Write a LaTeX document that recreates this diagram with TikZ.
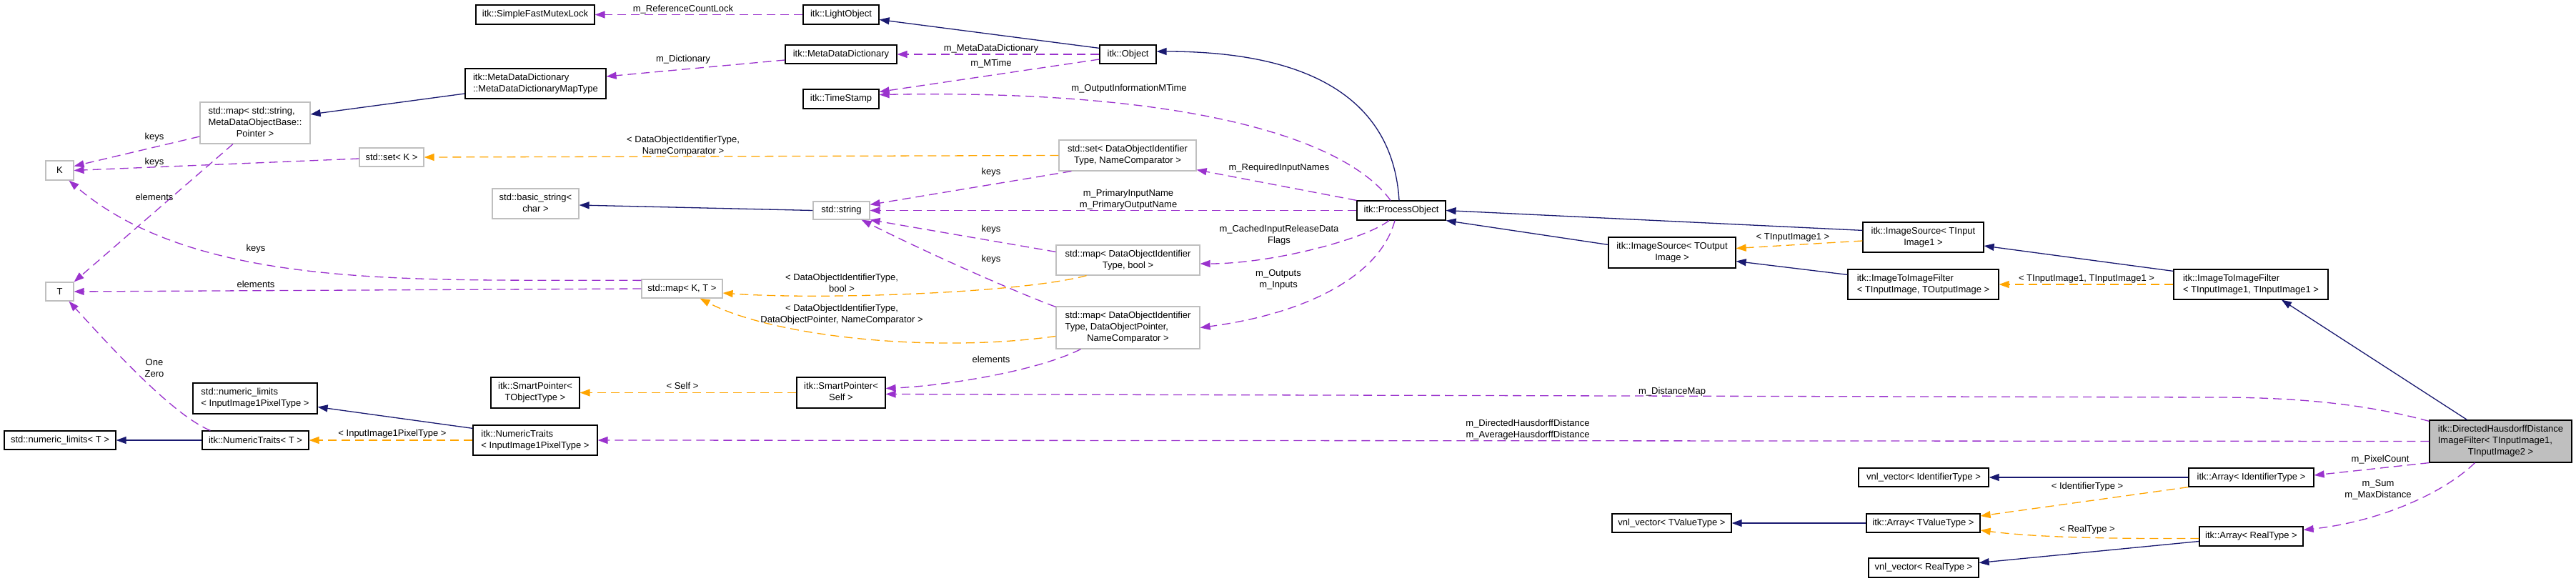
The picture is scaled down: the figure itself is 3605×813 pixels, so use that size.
\documentclass[tikz,border=0pt]{standalone}
\usepackage{fontspec}
\setmainfont{Liberation Sans}
\usetikzlibrary{arrows.meta,calc}
\definecolor{navy}{HTML}{191970}
\definecolor{orchid}{HTML}{9A32CD}
\definecolor{orng}{HTML}{FFA500}
\definecolor{greyseventyfive}{HTML}{BFBFBF}
\newcommand\nf{\fontsize{13}{16}\selectfont}
\newcommand\dl[2]{\begin{tabular}{@{}l@{}}#1\\\multicolumn{1}{@{}c@{}}{#2}\end{tabular}}
\newcommand\bx[7]{\node[#6, minimum width=#4pt-#2pt, minimum height=#5pt-#3pt] (#1) at ({(#2+#4)/2},{(#3+#5)/2}) {#7};}
\tikzset{
  cls/.style={draw=black, line width=1.2pt, fill=white, inner sep=0pt, font=\nf},
  ext/.style={cls, draw=greyseventyfive},
  mainst/.style={cls, fill=greyseventyfive},
  lbl/.style={font=\nf, align=center, inner sep=0pt},
  inh/.style={draw=navy, line width=1.3pt, -{Triangle[length=14pt,width=10pt]}},
  use/.style={draw=orchid, line width=1.3pt, dash pattern=on 12pt off 7pt, -{Triangle[length=14pt,width=10pt]}},
  tpl/.style={draw=orng, line width=1.3pt, dash pattern=on 12pt off 7pt, -{Triangle[length=14pt,width=10pt]}},
}
\begin{document}
\begin{tikzpicture}[x=1pt,y=-1pt]
\fill[white] (0,0) rectangle (3605,813);
\useasboundingbox (0,0) rectangle (3605,813);

% ---- nodes
\bx{sfml}{666}{7}{832}{34}{cls}{itk::SimpleFastMutexLock}
\bx{light}{1124}{7}{1230}{34}{cls}{itk::LightObject}
\bx{mdd}{1099}{63}{1255}{89}{cls}{itk::MetaDataDictionary}
\bx{maptype}{651}{96}{848}{138}{cls}{\dl{itk::MetaDataDictionary}{::MetaDataDictionaryMapType}}
\bx{ts}{1124}{125}{1230}{152}{cls}{itk::TimeStamp}
\bx{obj}{1539}{63}{1618}{89}{cls}{itk::Object}
\bx{mapsm}{280}{143}{434}{201}{ext}{\dl{std::map< std::string,\\MetaDataObjectBase::}{Pointer >}}
\bx{K}{64}{225}{103}{252}{ext}{K}
\bx{setK}{503}{207}{593}{233}{ext}{std::set< K >}
\bx{T}{64}{395}{103}{421}{ext}{T}
\bx{bstr}{689}{264}{810}{306}{ext}{\dl{std::basic\_string<}{char >}}
\bx{str}{1138}{282}{1217}{307}{ext}{std::string}
\bx{mapKT}{898}{391}{1011}{417}{ext}{std::map< K, T >}
\bx{setdoi}{1482}{196}{1674}{239}{ext}{\dl{std::set< DataObjectIdentifier}{Type, NameComparator >}}
\bx{mapbool}{1478}{343}{1679}{385}{ext}{\dl{std::map< DataObjectIdentifier}{Type, bool >}}
\bx{mapdop}{1478}{429}{1679}{488}{ext}{\dl{std::map< DataObjectIdentifier\\Type, DataObjectPointer,}{NameComparator >}}
\bx{po}{1899}{281}{2023}{308}{cls}{itk::ProcessObject}
\bx{isout}{2251}{332}{2429}{375}{cls}{\dl{itk::ImageSource< TOutput}{Image >}}
\bx{isin}{2607}{311}{2776}{353}{cls}{\dl{itk::ImageSource< TInput}{Image1 >}}
\bx{itiio}{2586}{377}{2797}{419}{cls}{\dl{itk::ImageToImageFilter}{< TInputImage, TOutputImage >}}
\bx{iti11}{3042}{377}{3258}{419}{cls}{\dl{itk::ImageToImageFilter}{< TInputImage1, TInputImage1 >}}
\bx{nlpix}{270}{536}{444}{579}{cls}{\dl{std::numeric\_limits}{< InputImage1PixelType >}}
\bx{nlT}{6}{603}{162}{629}{cls}{std::numeric\_limits< T >}
\bx{ntT}{283}{603}{432}{629}{cls}{itk::NumericTraits< T >}
\bx{spT}{687}{528}{811}{571}{cls}{\dl{itk::SmartPointer<}{TObjectType >}}
\bx{spS}{1115}{528}{1239}{571}{cls}{\dl{itk::SmartPointer<}{Self >}}
\bx{ntpix}{662}{595}{836}{637}{cls}{\dl{itk::NumericTraits}{< InputImage1PixelType >}}
\bx{vnlT}{2256}{719}{2423}{745}{cls}{vnl\_vector< TValueType >}
\bx{vnlId}{2601}{655}{2783}{681}{cls}{vnl\_vector< IdentifierType >}
\bx{arrT}{2612}{719}{2771}{745}{cls}{itk::Array< TValueType >}
\bx{vnlR}{2615}{781}{2769}{808}{cls}{vnl\_vector< RealType >}
\bx{main}{3400}{588}{3599}{647}{mainst}{\dl{itk::DirectedHausdorffDistance\\ImageFilter< TInputImage1,}{TInputImage2 >}}
\bx{arrId}{3063}{655}{3238}{681}{cls}{itk::Array< IdentifierType >}
\bx{arrR}{3078}{737}{3223}{764}{cls}{itk::Array< RealType >}

% ---- inheritance
\draw[inh] ($(obj.north west)+(0,5)$) -- ($(light.east)+(0,7)$);
\draw[inh] ($(maptype.west)+(0,14)$) -- ($(mapsm.east)+(0,-12)$);
\draw[inh] ($(po.north)+(-3,0)$) .. controls (1950,150) and (1850,72) .. ($(obj.east)+(0,-4)$);
\draw[inh] ($(isout.north west)+(0,11)$) -- (po.south east);
\draw[inh] ($(isin.north west)+(0,12)$) -- (po.east);
\draw[inh] ($(itiio.north west)+(0,8)$) -- ($(isout.east)+(0,12)$);
\draw[inh] ($(iti11.north west)+(0,3)$) -- ($(isin.east)+(0,12)$);
\draw[inh] ($(main.north)+(-47,0)$) -- ($(iti11.south)+(43,0)$);
\draw[inh] (ntT.west) -- (nlT.east);
\draw[inh] ($(ntpix.north west)+(0,5)$) -- ($(nlpix.east)+(0,12)$);
\draw[inh] (arrId.west) -- (vnlId.east);
\draw[inh] (arrT.west) -- (vnlT.east);
\draw[inh] ($(arrR.west)+(0,7)$) -- ($(vnlR.east)+(0,-7)$);
\draw[inh] (str.west) -- ($(bstr.east)+(0,2)$);

% ---- usage
\draw[use] (light.west) -- (sfml.east);
\node[lbl] (l1) at (956,13) {m\_ReferenceCountLock};
\draw[use] ($(mdd.west)+(0,8)$) -- ($(maptype.east)+(0,-10)$);
\node[lbl] (l2) at (956,83) {m\_Dictionary};
\draw[use] (obj.west) -- (mdd.east);
\node[lbl] (l3) at (1387,68) {m\_MetaDataDictionary};
\draw[use] ($(obj.west)+(0,7)$) -- ($(ts.east)+(0,-10)$);
\node[lbl] (l4) at (1387,89) {m\_MTime};
\draw[use] ($(po.north)+(-15,0)$) .. controls (1880,190) and (1650,125) .. ($(ts.east)+(0,-6)$);
\node[lbl] (l5) at (1580,124) {m\_OutputInformationMTime};
\draw[use] (po.north west) -- ($(setdoi.south east)+(0,-2)$);
\node[lbl] (l6) at (1790,235) {m\_RequiredInputNames};
\draw[use] (po.west) -- (str.east);
\node[lbl] (l7) at (1579,279) {m\_PrimaryInputName\\m\_PrimaryOutputName};
\draw[use] ($(po.south)+(-17,0)$) .. controls (1910,335) and (1780,369) .. ($(mapbool.east)+(0,5)$);
\node[lbl] (l8) at (1790,329) {m\_CachedInputReleaseData\\Flags};
\draw[use] ($(po.south)+(-9,0)$) .. controls (1930,390) and (1820,440) .. (mapdop.east);
\node[lbl] (l9) at (1789,391) {m\_Outputs\\m\_Inputs};
\draw[use] ($(setdoi.south west)+(18,0)$) -- ($(str.north east)+(0,5)$);
\node[lbl] (l10) at (1387,241) {keys};
\draw[use] ($(mapbool.north west)+(0,10)$) -- (str.south east);
\node[lbl] (l11) at (1387,321) {keys};
\draw[use] ($(mapdop.north west)+(0,1)$) .. controls (1420,408) and (1300,355) .. ($(str.south east)+(-12,0)$);
\node[lbl] (l12) at (1387,363) {keys};
\draw[use] ($(mapdop.south)+(-66,0)$) .. controls (1450,520) and (1320,540) .. ($(spS.east)+(0,-6)$);
\node[lbl] (l13) at (1387,503) {elements};
\draw[use] ($(mapsm.west)+(0,19)$) -- ($(K.east)+(0,-6)$);
\node[lbl] (l14) at (216,192) {keys};
\draw[use] ($(setK.west)+(0,2)$) -- (K.east);
\node[lbl] (l15) at (216,227) {keys};
\draw[use] ($(mapsm.south)+(-31,0)$) -- (T.north east);
\node[lbl] (l16) at (216,276) {elements};
\draw[use] ($(mapKT.north west)+(0,2)$) .. controls (600,390) and (280,410) .. ($(K.south)+(13,0)$);
\node[lbl] (l17) at (358,348) {keys};
\draw[use] (mapKT.west) -- (T.east);
\node[lbl] (l18) at (358,398) {elements};
\draw[use] ($(ntT.north west)+(12,0)$) .. controls (240,580) and (150,480) .. ($(T.south)+(13,0)$);
\node[lbl] (l19) at (216,515) {One\\Zero};
\draw[use] ($(main.north west)+(0,2)$) .. controls (3320,568) and (3230,556) .. (3100,556) -- ($(spS.east)+(0,2)$);
\node[lbl] (l20) at (2340,548) {m\_DistanceMap};
\draw[use] (main.west) -- (ntpix.east);
\node[lbl] (l21) at (2138,601) {m\_DirectedHausdorffDistance\\m\_AverageHausdorffDistance};
\draw[use] (main.south west) -- ($(arrId.east)+(0,-3)$);
\node[lbl] (l22) at (3331,643) {m\_PixelCount};
\draw[use] ($(main.south)+(-36,0)$) .. controls (3420,690) and (3330,730) .. ($(arrR.east)+(0,-9)$);
\node[lbl] (l23) at (3328,685) {m\_Sum\\m\_MaxDistance};

% ---- template instantiation
\draw[tpl] (setdoi.west) -- (setK.east);
\node[lbl] (t1) at (956,204) {< DataObjectIdentifierType,\\NameComparator >};
\draw[tpl] ($(mapbool.south)+(-58,0)$) .. controls (1430,410) and (1150,420) .. ($(mapKT.east)+(0,6)$);
\node[lbl] (t2) at (1178,396) {< DataObjectIdentifierType,\\bool >};
\draw[tpl] ($(mapdop.west)+(0,12)$) .. controls (1300,495) and (1080,470) .. ($(mapKT.south)+(25,0)$);
\node[lbl] (t3) at (1178,440) {< DataObjectIdentifierType,\\DataObjectPointer, NameComparator >};
\draw[tpl] ($(isin.west)+(0,5)$) -- ($(isout.east)+(0,-6)$);
\node[lbl] (t4) at (2509,332) {< TInputImage1 >};
\draw[tpl] (iti11.west) -- (itiio.east);
\node[lbl] (t5) at (2920,390) {< TInputImage1, TInputImage1 >};
\draw[tpl] (spS.west) -- (spT.east);
\node[lbl] (t6) at (955,540) {< Self >};
\draw[tpl] (ntpix.west) -- (ntT.east);
\node[lbl] (t7) at (549,607) {< InputImage1PixelType >};
\draw[tpl] (arrId.south west) -- ($(arrT.east)+(0,-10)$);
\node[lbl] (t8) at (2921,681) {< IdentifierType >};
\draw[tpl] ($(arrR.west)+(0,3)$) .. controls (2950,754) and (2850,752) .. ($(arrT.east)+(0,10)$);
\node[lbl] (t9) at (2921,741) {< RealType >};
\end{tikzpicture}
\end{document}
